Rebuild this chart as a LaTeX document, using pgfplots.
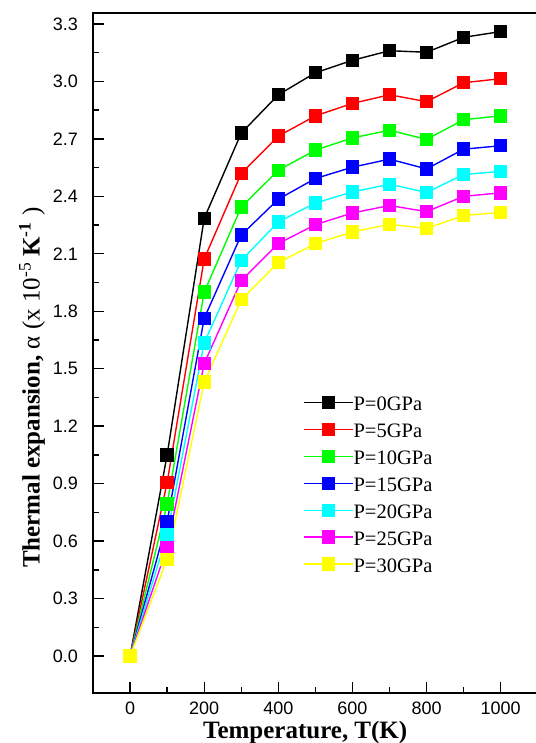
\documentclass[border=0pt]{standalone}
\usepackage{fontspec}
\setmainfont{Liberation Serif}
\newfontfamily\arialf{Liberation Sans}
\usepackage{pgfplots}
\pgfplotsset{compat=1.18}
\definecolor{cK}{RGB}{0,0,0}
\definecolor{cR}{RGB}{255,0,0}
\definecolor{cG}{RGB}{0,255,0}
\definecolor{cB}{RGB}{0,0,255}
\definecolor{cC}{RGB}{0,255,255}
\definecolor{cM}{RGB}{255,0,255}
\definecolor{cY}{RGB}{255,255,0}
\begin{document}
\begin{tikzpicture}
\begin{axis}[
  scale only axis, width=444.8pt, height=680pt,
  xmin=-100, xmax=1100, ymin=-0.193, ymax=3.357,
  xtick={0,200,400,600,800,1000}, minor x tick num=1,
  ytick={0,0.3,0.6,0.9,1.2,1.5,1.8,2.1,2.4,2.7,3.0,3.3}, minor y tick num=1,
  tick align=inside, tick pos=left,
  major tick length=11pt, minor tick length=6pt,
  tick style={line width=1.4pt, black},
  axis line style={line width=1.6pt},
  /pgf/number format/assume math mode=true,
  /pgf/number format/1000 sep={},
  tick label style={font=\arialf\fontsize{18}{18}\selectfont},
  yticklabel style={/pgf/number format/.cd, fixed, fixed zerofill, precision=1, /tikz/.cd, inner sep=0pt, anchor=east, xshift=-15pt},
  xticklabel style={inner sep=0pt, anchor=north, yshift=-9pt},
  xlabel={\textbf{Temperature, T(K)}},
  ylabel={\textbf{Thermal expansion,} α (x 10\textsuperscript{-5} \textbf{K\textsuperscript{-1}} )},
  every axis x label/.style={at={(rel axis cs:0.477,-0.0662)}, anchor=base, font=\fontsize{25}{30}\selectfont},
  every axis y label/.style={at={(rel axis cs:-0.137,0.449)}, rotate=90, anchor=center, font=\fontsize{25}{30}\selectfont},
  every axis plot/.append style={line width=1.4pt, mark=square*, mark size=6pt, mark options={solid}},
  legend cell align=left,
  legend image code/.code={\draw[mark repeat=2,mark phase=2] plot coordinates {(0pt,3.5pt) (24.5pt,3.5pt) (49pt,3.5pt)};},
  legend style={at={(0.4721,0.4415)}, anchor=north west, draw=none, fill=none, inner sep=0pt, row sep=0.6pt,
    font=\fontsize{20.5}{24}\selectfont,
    nodes={inner sep=0pt, text height=18pt, text depth=8.3pt},
    /tikz/every even column/.append style={column sep=6pt}},
]
\addplot[color=cK, mark options={fill=cK}] coordinates {(0,0) (100,1.05) (200,2.285) (300,2.73) (400,2.93) (500,3.045) (600,3.11) (700,3.16) (800,3.152) (900,3.23) (1000,3.26)};
\addlegendentry{P=0GPa}
\addplot[color=cR, mark options={fill=cR}] coordinates {(0,0) (100,0.905) (200,2.073) (300,2.52) (400,2.714) (500,2.82) (600,2.885) (700,2.93) (800,2.894) (900,2.993) (1000,3.014)};
\addlegendentry{P=5GPa}
\addplot[color=cG, mark options={fill=cG}] coordinates {(0,0) (100,0.793) (200,1.90) (300,2.344) (400,2.536) (500,2.641) (600,2.705) (700,2.745) (800,2.697) (900,2.80) (1000,2.82)};
\addlegendentry{P=10GPa}
\addplot[color=cB, mark options={fill=cB}] coordinates {(0,0) (100,0.702) (200,1.763) (300,2.198) (400,2.385) (500,2.493) (600,2.552) (700,2.594) (800,2.543) (900,2.646) (1000,2.664)};
\addlegendentry{P=15GPa}
\addplot[color=cC, mark options={fill=cC}] coordinates {(0,0) (100,0.633) (200,1.635) (300,2.065) (400,2.266) (500,2.365) (600,2.423) (700,2.463) (800,2.42) (900,2.514) (1000,2.53)};
\addlegendentry{P=20GPa}
\addplot[color=cM, mark options={fill=cM}] coordinates {(0,0) (100,0.568) (200,1.527) (300,1.96) (400,2.153) (500,2.252) (600,2.313) (700,2.352) (800,2.32) (900,2.40) (1000,2.418)};
\addlegendentry{P=25GPa}
\addplot[color=cY, mark options={fill=cY}] coordinates {(0,0) (100,0.505) (200,1.43) (300,1.86) (400,2.054) (500,2.153) (600,2.214) (700,2.254) (800,2.232) (900,2.30) (1000,2.316)};
\addlegendentry{P=30GPa}
\end{axis}
\pgfresetboundingbox
\useasboundingbox (-93pt,-50pt) rectangle (442pt,693pt);
\end{tikzpicture}
\end{document}
